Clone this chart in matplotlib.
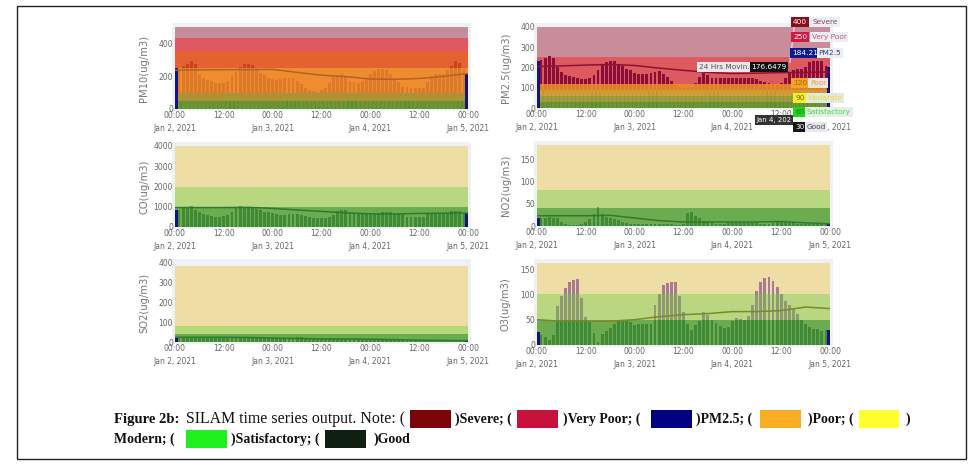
import pandas as pd
import matplotlib
matplotlib.use('Agg')
import matplotlib.pyplot as plt
import matplotlib.dates as mdates
from matplotlib.lines import Line2D
from matplotlib.patches import Rectangle

W, H = 978, 475
hours = pd.date_range('2021-01-02 00:00', '2021-01-05 00:00', freq='h')
line_hours = hours[::6]

GREEN = '#5f8f2c'
panels = [
    dict(label='PM10(ug/m3)', box=(175, 27, 468, 109), top=497, ticks=[0, 200, 400],
         values=[250, 240, 260, 275, 290, 270, 210, 190, 175, 170, 160, 155, 155, 170, 200, 225, 255, 270, 275,
                 265, 250, 220, 205, 190, 180, 175, 180, 185, 190, 190, 170, 150, 130, 115, 110, 105, 115, 130,
                 155, 195, 205, 215, 195, 170, 165, 160, 170, 180, 210, 230, 245, 245, 235, 210, 190, 165, 135,
                 135, 130, 125, 125, 130, 165, 195, 210, 210, 215, 235, 260, 290, 280, 240, 215],
         line=[235, 237, 238, 238, 240, 222, 205, 196, 182, 180, 185, 198, 215],
         line_color='#b5602a',
         bands=[(0, 50, GREEN, '#6d9436'), (50, 100, '#9c9a36', '#b28e34'), (100, 250, '#ee8c2e', '#dc7a2a'),
                (250, 350, '#e4622f', '#c8421f'), (350, 430, '#dd5862', '#dd5862'), (430, 497, '#c58c99', '#c58c99')]),
    dict(label='PM2.5(ug/m3)', box=(537, 27, 830, 108), top=400, ticks=[0, 100, 200, 300, 400],
         values=[230, 235, 245, 258, 248, 200, 180, 165, 160, 155, 150, 145, 145, 150, 165, 190, 210, 225, 232,
                 230, 215, 205, 195, 190, 175, 170, 168, 170, 172, 180, 185, 170, 155, 135, 115, 105, 100, 98,
                 105, 125, 155, 175, 165, 150, 150, 150, 150, 150, 150, 150, 150, 150, 150, 150, 145, 135, 130,
                 125, 120, 115, 125, 150, 180, 190, 195, 195, 200, 225, 230, 230, 230, 205, 200],
         line=[205, 208, 212, 215, 210, 197, 186, 176, 170, 172, 175, 176, 178],
         line_color='#8c1230',
         bands=[(0, 30, GREEN, '#6d9436'), (30, 60, '#8f9a36', '#a09c3c'), (60, 90, '#c49a30', '#cf9e34'),
                (90, 120, '#e8882a', '#de7c28'), (120, 250, '#dd5a60', '#8a0f38'), (250, 400, '#c88c9a', '#8a0f38')]),
    dict(label='CO(ug/m3)', box=(175, 146, 468, 227), top=4000, ticks=[0, 1000, 2000, 3000, 4000],
         values=[850, 850, 920, 950, 1020, 850, 720, 620, 570, 540, 510, 500, 520, 600, 720, 1000, 1060, 1000, 950,
                 920, 900, 830, 750, 720, 700, 640, 610, 600, 620, 640, 640, 600, 560, 500, 460, 430, 420, 420,
                 480, 600, 800, 830, 820, 700, 640, 620, 620, 620, 620, 640, 700, 730, 740, 720, 660, 640, 620,
                 500, 490, 480, 480, 510, 640, 680, 680, 670, 670, 700, 780, 800, 780, 700, 680],
         line=[960, 960, 960, 970, 920, 840, 770, 700, 650, 640, 670, 680, 690],
         line_color='#2f7a2c',
         bands=[(0, 1000, '#6cab50', '#3f8a36'), (1000, 2000, '#b9d680', '#6f9f40'), (2000, 4000, '#eedda4', '#b9a060')]),
    dict(label='NO2(ug/m3)', box=(537, 145, 830, 226), top=182, ticks=[0, 50, 100, 150],
         values=[18, 17, 19, 20, 19, 17, 9, 4, 3, 2, 2, 4, 9, 15, 28, 42, 26, 20, 18, 16, 14, 8, 6, 5, 5,
                 5, 4, 4, 4, 5, 5, 4, 5, 4, 2, 2, 5, 30, 31, 22, 18, 12, 9, 6, 5, 5, 5, 6, 6, 7, 7,
                 7, 7, 6, 6, 4, 4, 5, 6, 9, 10, 9, 7, 6, 5, 5, 5, 5, 5, 5, 5, 5, 4],
         line=[23, 23, 23, 24, 18, 12, 9, 9, 9, 9, 10, 7, 5],
         line_color='#2f7a2c',
         bands=[(0, 40, '#6cab50', '#3f8a36'), (40, 80, '#b9d680', '#6f9f40'), (80, 182, '#eedda4', '#b9a060')]),
    dict(label='SO2(ug/m3)', box=(175, 263, 468, 342), top=385, ticks=[0, 100, 200, 300, 400],
         values=[26, 22, 22, 23, 24, 24, 25, 24, 24, 24, 23, 24, 24, 24, 24, 24, 24, 23, 23, 22, 20, 18, 18, 18, 17,
                 17, 16, 16, 16, 18, 26, 26, 16, 15, 14, 14, 14, 14, 14, 14, 14, 14, 14, 14, 14, 13, 13, 12, 12, 12,
                 12, 11, 10, 10, 9, 9, 9, 8, 8, 8, 7, 7, 7, 7, 7, 7, 7, 7, 7, 7, 7, 7, 6],
         line=[24, 24, 24, 23, 20, 18, 16, 15, 14, 12, 9, 8, 7],
         line_color='#2f7a2c',
         bands=[(0, 40, '#6cab50', '#3f8a36'), (40, 80, '#b4da78', '#6f9f40'), (80, 385, '#eedda4', '#b9a060')]),
    dict(label='O3(ug/m3)', box=(537, 263, 830, 345), top=162, ticks=[0, 50, 100, 150],
         values=[25, 20, 15, 10, 20, 78, 97, 112, 124, 128, 130, 92, 55, 48, 24, 5, 22, 28, 33, 42, 47, 50, 50, 45,
                 40, 41, 41, 41, 42, 80, 101, 118, 123, 125, 125, 97, 65, 42, 30, 39, 48, 65, 60, 50, 43, 38, 33,
                 35, 48, 54, 52, 50, 58, 79, 107, 125, 133, 135, 127, 115, 100, 87, 80, 71, 62, 50, 42, 36, 32, 31, 28, 29, 30],
         line=[50, 47, 47, 47, 50, 56, 60, 62, 66, 66, 68, 75, 72],
         line_color='#7a8a28',
         bands=[(0, 50, '#6cab50', '#3f8a36'), (50, 100, '#b9d680', '#8f9a70'), (100, 162, '#eedda4', '#a87a90')]),
]

fig = plt.figure(figsize=(W / 100, H / 100), dpi=100)


def fx(x):
    return x / W


def fy(y):
    return 1 - y / H


def add_rect(x0, y0, x1, y1, **kw):
    fig.add_artist(Rectangle((fx(x0), fy(y1)), (x1 - x0) / W, (y1 - y0) / H, transform=fig.transFigure, **kw))


# page frame of the article figure
add_rect(17, 6, 966, 459, fill=False, edgecolor='#222222', linewidth=1)

for p in panels:
    x0, y0, x1, y1 = p['box']
    add_rect(x0 - 3, y0 - 4, x1 + 3, y1 + 2, facecolor='#eef2f4', edgecolor='none', zorder=0)
    ax = fig.add_axes([fx(x0), fy(y1), (x1 - x0) / W, (y1 - y0) / H])
    ax.set_facecolor('none')
    s = pd.Series(p['values'], index=hours)
    w = 0.7 / 24
    x = mdates.date2num(hours)
    for lo, hi, c, bar_c in p['bands']:
        ax.axhspan(lo, hi, color=c, linewidth=0, zorder=1)
        part = s.clip(lo, hi) - lo
        ax.bar(x[1:-1], part.values[1:-1], width=w, bottom=lo, color=bar_c, linewidth=0, zorder=2)
    # first and last hour are drawn in the pollutant colour
    ax.bar(x[[0, -1]], s.values[[0, -1]], width=w * 2, color='#14147a', linewidth=0, zorder=3)
    ax.plot(line_hours, p['line'], color=p['line_color'], linewidth=1.1, zorder=4)
    ax.set_xlim(x[0], x[-1])
    ax.set_ylim(0, p['top'])
    ax.set_yticks(p['ticks'])
    ax.set_xticks(x[::12])
    ax.set_xticklabels(['00:00\nJan %d, 2021' % (2 + i // 2) if i % 2 == 0 else '12:00' for i in range(7)])
    ax.tick_params(length=0, labelsize=5.5, labelcolor='#666666', pad=1.5)
    for lab in ax.get_xticklabels():
        lab.set_linespacing(1.6)
    for sp in ax.spines.values():
        sp.set_visible(False)
    fig.text(fx(x0 - 31), fy((y0 + y1) / 2), p['label'], rotation=90, ha='center', va='center',
             fontsize=7.2, color='#777777')


def tip(x, y, txt, bg, fg='white', size=5.3):
    fig.text(fx(x), fy(y), txt, ha='center', va='center', fontsize=size, color=fg, zorder=10,
             bbox=dict(boxstyle='square,pad=0.25', facecolor=bg, edgecolor='none'))


# hover labels over the PM2.5 panel
fig.add_artist(Line2D([fx(794), fx(790)], [fy(28), fy(62)], color='#e6c8d0', linewidth=1.2, zorder=9))
tip(800, 22, '400', '#8b0d1a')
tip(825, 22, 'Severe', '#eceef5', '#8a4a55')
tip(800, 37, '250', '#d01a44')
tip(829, 37, 'Very Poor', '#eceef5', '#cf5a6c')
tip(805, 53, '184.21', '#0c1a8c')
tip(830, 53, 'PM2.5', '#eceef5', '#333a70')
tip(727, 67, '24 Hrs Movin...', '#ebe6ea', '#555555')
tip(769, 67, '176.6479', '#111111')
tip(800, 83, '120', '#f5a21f', '#a06a10')
tip(818, 83, 'Poor', '#ece4e0', '#e8a23a')
tip(800, 98, '90', '#f5f020', '#666622')
tip(825, 98, 'Moderate', '#e6e8e0', '#e0e040')
tip(800, 112, '60', '#18d818', '#2a7a2a')
tip(829, 112, 'Satisfactory', '#e6efe6', '#44d844')
tip(774, 120, 'Jan 4, 202', '#333333', size=5)
tip(800, 127, '30', '#161616')
tip(816, 127, 'Good', '#e6e8ee', '#444444')

# caption, pieces placed one by one since the swatches sit inside the text
SERIF = 'Liberation Serif'
pieces = [
    (114, 419, 'Figure 2b:', 'bold', 10.5),
    (186, 419, 'SILAM time series output. Note: (', 'normal', 11.4),
    (455, 419, ')Severe; (', 'bold', 10),
    (563, 419, ')Very Poor; (', 'bold', 10),
    (696, 419, ')PM2.5; (', 'bold', 10),
    (808, 419, ')Poor; (', 'bold', 10),
    (906, 419, ')', 'bold', 10),
    (114, 439, 'Modern; (', 'bold', 10),
    (231, 439, ')Satisfactory; (', 'bold', 10),
    (374, 439, ')Good', 'bold', 10),
]
for px, py, txt, weight, size in pieces:
    fig.text(fx(px), fy(py), txt, family=SERIF, fontsize=size, weight=weight, va='center', color='#111111')

swatches = [
    (410, 451, 410, '#7b0508'), (517, 558, 410, '#c8123c'), (651, 692, 410, '#000080'),
    (760, 801, 410, '#f8ad22'), (859, 899, 410, '#ffff2e'), (186, 227, 430, '#1ef01e'), (325, 366, 430, '#102010'),
]
for a, b, top, c in swatches:
    add_rect(a, top, b, top + 18, facecolor=c, edgecolor='none')

fig.savefig('out.png', dpi=100)
